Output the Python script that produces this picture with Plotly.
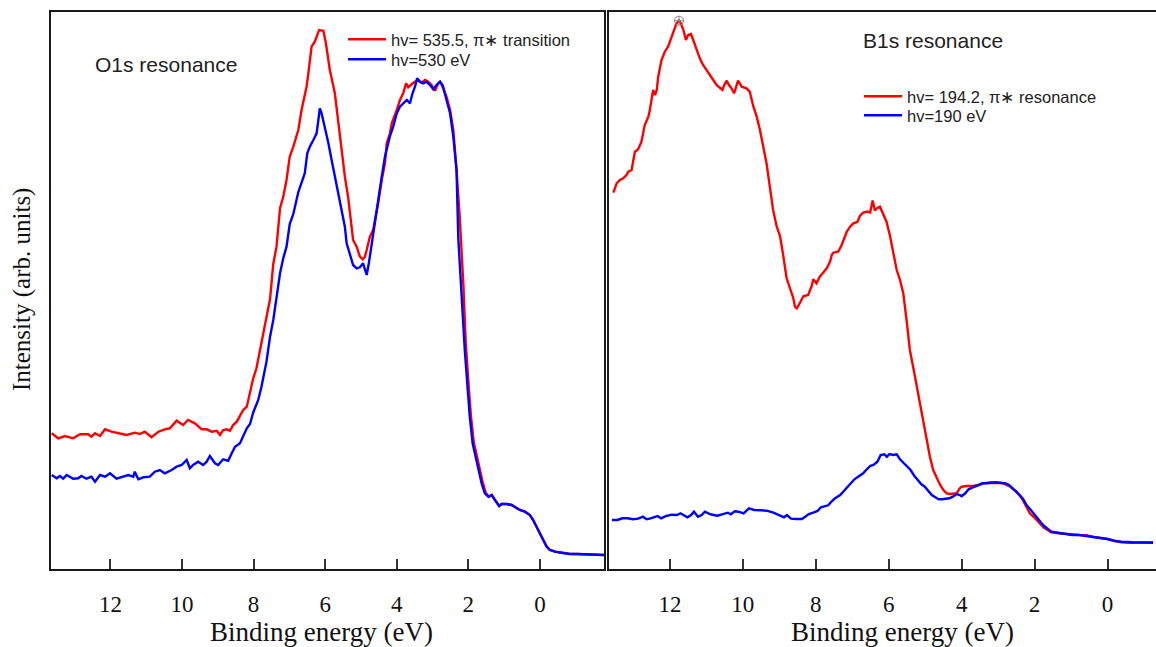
import plotly.graph_objects as go

# ---------------- data ----------------
# Left panel: O1s resonance
o1s_res_energy = [13.64, 13.46, 13.27, 13.04, 12.85, 12.62, 12.53, 12.43, 12.29, 12.15, 11.97, 11.78, 11.55, 11.32,
                  11.18, 11.04, 10.85, 10.66, 10.48, 10.34, 10.15, 9.97, 9.83, 9.64, 9.45, 9.31, 9.17, 9.03, 8.94,
                  8.85, 8.75, 8.66, 8.57, 8.47, 8.38, 8.29, 8.19, 8.10, 8.01, 7.92, 7.82, 7.73, 7.64, 7.54, 7.45,
                  7.36, 7.26, 7.17, 7.08, 6.99, 6.89, 6.75, 6.66, 6.52, 6.47, 6.43, 6.38, 6.29, 6.24, 6.17, 6.05,
                  5.98, 5.87, 5.73, 5.64, 5.54, 5.45, 5.36, 5.26, 5.22, 5.12, 5.03, 4.95, 4.89, 4.84, 4.75, 4.66,
                  4.52, 4.42, 4.33, 4.28, 4.19, 4.14, 4.10, 4.00, 3.91, 3.82, 3.74, 3.68, 3.58, 3.49, 3.40, 3.31,
                  3.21, 3.12, 3.03, 2.93, 2.84, 2.79, 2.70, 2.61, 2.51, 2.42, 2.33, 2.24, 2.14, 2.07, 2.00, 1.93,
                  1.85, 1.79, 1.70, 1.60, 1.51, 1.42, 1.34, 1.26, 1.14, 1.07, 0.93, 0.79, 0.65, 0.56, 0.42, 0.28,
                  0.19, 0.09, 0.00, -0.09, -0.19, -0.28, -0.42, -0.61, -0.84, -1.03, -1.30, -1.58, -1.79]
o1s_res_int = [135.7, 130.7, 133, 130.7, 134.7, 134.7, 132.3, 135.7, 133, 139.7, 137.3, 135.7, 134, 136.3,
               135, 137.3, 131.7, 137.3, 139.7, 140.7, 148.3, 144, 149, 145.7, 139.7, 139.7, 137.3, 138.3, 134,
               139, 139.7, 138.3, 144, 147.3, 154, 159, 162.3, 175.7, 190.7, 200.7, 219, 235.7, 249, 270, 305,
               322.3, 361, 372.3, 389, 412.3, 422.3, 439, 459, 482.3, 495.7, 505.7, 522.3, 527.3, 532.3, 539, 538.3,
               525.7, 499, 475.7, 449, 419, 392.3, 372.3, 342.3, 329, 322.3, 312.3, 309.7, 312.3, 319, 332.3, 339,
               365.7, 389, 405.7, 425.7, 435.7, 445.7, 449, 459, 469, 475.7, 485.7, 481.7, 485, 487.3, 488.3, 486.3,
               489, 487.3, 484, 478.3, 485.7, 487.3, 480.7, 472.3, 459, 439, 399, 352, 285, 225, 188, 154,
               127, 117, 103, 87, 76, 72.3, 74, 69, 63, 65, 65, 64, 60.7, 59, 57.3, 54,
               49, 42.3, 35.7, 29, 22.3, 19, 17.3, 16.3, 15, 15, 14.7, 14, 14]

o1s_off_energy = [13.64, 13.50, 13.41, 13.32, 13.22, 13.13, 13.04, 12.90, 12.81, 12.67, 12.53, 12.43, 12.29, 12.15,
                  12.01, 11.83, 11.64, 11.50, 11.36, 11.32, 11.22, 11.08, 10.90, 10.76, 10.62, 10.48, 10.29, 10.15,
                  10.01, 9.87, 9.78, 9.69, 9.55, 9.41, 9.31, 9.22, 9.08, 8.99, 8.85, 8.71, 8.61, 8.52, 8.38, 8.29,
                  8.19, 8.10, 8.01, 7.87, 7.78, 7.64, 7.54, 7.45, 7.36, 7.26, 7.17, 7.08, 6.99, 6.89, 6.75, 6.66,
                  6.57, 6.50, 6.43, 6.33, 6.24, 6.19, 6.15, 6.10, 6.01, 5.91, 5.82, 5.73, 5.64, 5.54, 5.45, 5.40,
                  5.31, 5.22, 5.12, 5.03, 4.94, 4.84, 4.78, 4.70, 4.61, 4.52, 4.42, 4.33, 4.24, 4.19, 4.10, 4.00,
                  3.91, 3.82, 3.72, 3.63, 3.56, 3.49, 3.43, 3.35, 3.26, 3.17, 3.07, 2.98, 2.89, 2.79, 2.72, 2.61,
                  2.51, 2.42, 2.33, 2.28, 2.19, 2.10, 2.03, 1.96, 1.88, 1.82, 1.72, 1.63, 1.54, 1.44, 1.35, 1.26,
                  1.14, 1.07, 0.93, 0.79, 0.65, 0.56, 0.42, 0.28, 0.19, 0.09, 0.00, -0.09, -0.19, -0.28, -0.42,
                  -0.61, -0.84, -1.03, -1.30, -1.58, -1.79]
o1s_off_int = [94, 90.7, 93, 90.3, 94, 92.3, 90.3, 90.7, 93, 90.3, 92.3, 87.3, 94, 92.3,
               95.7, 90.3, 92.3, 94, 92.3, 97.3, 89.7, 91.7, 92.3, 97.3, 99, 95.7, 99, 102.3,
               104, 109, 100.7, 104, 107.3, 104, 107.3, 113, 105.7, 104, 109.7, 108.3, 115.7, 122.3, 125.7, 132.3,
               140.7, 145, 156.5, 169, 182.3, 207.3, 232.3, 249, 271, 296, 311, 322.3, 345, 355, 377, 385.7,
               395.7, 415.7, 422.3, 429, 435.7, 449, 460.7, 455.7, 442.3, 425.7, 409, 392.3, 375.7, 359, 342.3, 325.7,
               315.7, 304, 300.7, 301.7, 305.7, 294, 305.7, 325.7, 345.7, 365.7, 392.3, 412.3, 425.7, 433, 442.3, 455.7,
               462.3, 465.7, 469, 465.7, 475.7, 482.3, 490.7, 487.3, 485.7, 487.3, 484, 479.7, 484, 487.3, 484, 469,
               455.7, 432.3, 399, 330, 269, 219, 185.7, 152.3, 125.7, 115.7, 102.3, 85.7, 75.7, 72.3, 74, 69,
               63, 65, 65, 64, 60.7, 59, 57.3, 54, 49, 42.3, 35.7, 29, 22.3, 19, 17.3,
               16.3, 15, 15, 14.7, 14, 14]

# Right panel: B1s resonance
b1s_res_energy = [13.55, 13.46, 13.37, 13.28, 13.19, 13.14, 13.05, 13.01, 12.96, 12.87, 12.78, 12.69, 12.59, 12.55,
                  12.50, 12.46, 12.41, 12.36, 12.32, 12.27, 12.23, 12.14, 12.05, 11.95, 11.86, 11.82, 11.75, 11.70,
                  11.63, 11.56, 11.50, 11.42, 11.36, 11.27, 11.18, 11.09, 10.99, 10.90, 10.81, 10.72, 10.63, 10.56,
                  10.51, 10.44, 10.38, 10.31, 10.24, 10.19, 10.13, 10.03, 9.90, 9.81, 9.71, 9.62, 9.53, 9.44, 9.35,
                  9.26, 9.17, 9.07, 8.98, 8.89, 8.80, 8.71, 8.62, 8.57, 8.52, 8.43, 8.34, 8.21, 8.11, 8.07, 7.98,
                  7.89, 7.79, 7.70, 7.61, 7.56, 7.52, 7.38, 7.29, 7.20, 7.15, 7.06, 6.97, 6.86, 6.79, 6.70, 6.59,
                  6.51, 6.44, 6.38, 6.31, 6.24, 6.15, 6.06, 5.97, 5.87, 5.78, 5.69, 5.60, 5.51, 5.46, 5.42, 5.33,
                  5.23, 5.14, 5.05, 4.96, 4.87, 4.78, 4.68, 4.59, 4.50, 4.41, 4.32, 4.23, 4.14, 4.05, 4.00, 3.86,
                  3.68, 3.54, 3.41, 3.22, 3.04, 2.86, 2.67, 2.49, 2.35, 2.22, 2.13, 2.02, 1.93, 1.83, 1.74, 1.64,
                  1.54, 1.35, 1.16, 0.97, 0.77, 0.58, 0.39, 0.19, 0.00, -0.19, -0.38, -0.67, -0.96, -1.25]
b1s_res_int = [376.3, 385.7, 389, 390.7, 394, 397.3, 399, 405.7, 417.3, 419.7, 427.3, 444, 452.3, 459,
               469, 479, 474, 479, 492.3, 500.7, 509, 517.3, 522.3, 532.3, 540.7, 545.7, 548.3, 545.7,
               539, 529, 534, 535, 529, 519, 510.7, 504, 499, 494, 489, 484, 481.7, 479,
               484, 488.3, 484, 480.7, 475.7, 482.3, 488.3, 482.3, 480.7, 477.3, 462.3, 452.3, 439, 422.3, 405.7,
               382.3, 359, 342.3, 333, 313, 291, 281, 271.5, 262.3, 260.7, 266.5, 272.7, 274, 283, 289.7, 285.7,
               292.3, 297.3, 300.7, 307.3, 314, 316.3, 317.5, 324, 334, 337.3, 342.3, 345.7, 347, 353, 356.5, 357.5,
               356.5, 368.5, 358.5, 361, 362.3, 354, 347.3, 334, 315.7, 299, 289, 275.7, 249, 232.3, 219, 202.3,
               182.3, 165.7, 149, 129, 112.3, 99, 90.7, 84, 79, 75.7, 75, 75, 75.7, 80.7, 82.3, 83,
               83, 84, 85.7, 86.3, 86.3, 85.7, 82.3, 77.3, 70.7, 62.3, 55.7, 52, 48, 44.7, 41.3, 38.7,
               36.7, 35.7, 35, 34.3, 34, 33.7, 32, 31, 30, 28, 26.7, 26.3, 26.7, 26.7]

b1s_off_energy = [13.59, 13.44, 13.30, 13.16, 13.01, 12.87, 12.74, 12.64, 12.53, 12.43, 12.34, 12.24, 12.10, 11.95,
                  11.81, 11.71, 11.61, 11.52, 11.42, 11.34, 11.23, 11.13, 11.04, 10.89, 10.70, 10.55, 10.41, 10.33,
                  10.22, 10.12, 9.98, 9.83, 9.69, 9.49, 9.35, 9.16, 9.01, 8.87, 8.79, 8.68, 8.53, 8.38, 8.29, 8.19,
                  8.05, 7.95, 7.86, 7.76, 7.66, 7.57, 7.47, 7.33, 7.23, 7.13, 7.04, 6.94, 6.84, 6.70, 6.60, 6.51,
                  6.41, 6.31, 6.22, 6.12, 6.05, 5.98, 5.88, 5.78, 5.69, 5.59, 5.49, 5.40, 5.30, 5.21, 5.11, 5.01,
                  4.91, 4.82, 4.72, 4.63, 4.53, 4.43, 4.34, 4.24, 4.14, 4.05, 4.00, 3.90, 3.81, 3.71, 3.61, 3.52,
                  3.42, 3.33, 3.23, 3.09, 2.94, 2.79, 2.70, 2.60, 2.51, 2.41, 2.31, 2.22, 2.12, 2.02, 1.93, 1.83,
                  1.74, 1.64, 1.54, 1.35, 1.16, 0.97, 0.77, 0.58, 0.39, 0.19, 0.00, -0.19, -0.38, -0.67, -0.96, -1.25]
b1s_off_int = [49, 49, 50.7, 50.7, 49.7, 50.3, 52.3, 49.7, 50.7, 51.7, 53, 50.7, 53, 54.3,
               54, 55.7, 54, 51.7, 54, 57.3, 52.3, 54, 57.3, 54.7, 53.3, 55, 56.3, 54.7,
               57.7, 57.3, 55.7, 60.7, 59, 58.7, 58.3, 56.3, 54.3, 51.7, 54, 50.3, 50, 50, 52.3, 55,
               56.7, 58, 61.7, 63, 63.7, 67.3, 70.7, 74, 78, 81.7, 86.3, 89.7, 92.3, 95.7, 99.7, 103,
               104.3, 107.3, 114, 114.7, 112.3, 115, 114, 114.7, 109.7, 106.3, 102.3, 99, 93.3, 89, 85, 82.3,
               78.3, 74, 71.7, 69.7, 69.7, 70.3, 70.7, 72.3, 75, 74, 72.7, 75.7, 79.7, 81.3, 83, 84,
               85.7, 85.7, 86.3, 86.7, 86.3, 85.7, 84, 80.7, 78.3, 74, 69.7, 64, 59.7, 55, 50.7, 46.7,
               43, 39.7, 37.3, 36.3, 35, 34, 34, 33, 32.3, 31.3, 30, 28.3, 27.3, 26.7, 26.3, 26.3]

# marked maximum on the B1s resonance spectrum
b1s_peak_energy = [11.75]
b1s_peak_int = [548.3]

x_ticks = [12, 10, 8, 6, 4, 2, 0]

RED = "#ff0000"
BLUE = "#0000ff"
LW = 2.4
W, H = 1156, 647

fig = go.Figure()
fig.add_trace(go.Scatter(x=o1s_res_energy, y=o1s_res_int, mode="lines", name="hv= 535.5, π∗ transition",
                         line=dict(color=RED, width=LW), xaxis="x", yaxis="y", legend="legend"))
fig.add_trace(go.Scatter(x=o1s_off_energy, y=o1s_off_int, mode="lines", name="hv=530 eV",
                         line=dict(color=BLUE, width=LW), xaxis="x", yaxis="y", legend="legend2"))
fig.add_trace(go.Scatter(x=b1s_res_energy, y=b1s_res_int, mode="lines", name="hv= 194.2, π∗ resonance",
                         line=dict(color=RED, width=LW), xaxis="x2", yaxis="y2", legend="legend3"))
fig.add_trace(go.Scatter(x=b1s_off_energy, y=b1s_off_int, mode="lines", name="hv=190 eV",
                         line=dict(color=BLUE, width=LW), xaxis="x2", yaxis="y2", legend="legend4"))
fig.add_trace(go.Scatter(x=b1s_peak_energy, y=b1s_peak_int, mode="markers", showlegend=False,
                         marker=dict(symbol="circle-cross-open", size=9, color="#888888", line=dict(width=1)),
                         xaxis="x2", yaxis="y2"))

frame = "#1a1a1a"
tickfont = dict(family="Liberation Serif", size=23, color="#111111")
common_x = dict(tickmode="array", tickvals=x_ticks, ticks="inside", ticklen=10, tickwidth=1.5,
                tickcolor="#333333", showline=True, linecolor=frame, linewidth=2, showgrid=False,
                zeroline=False, tickfont=tickfont, ticklabelstandoff=13, fixedrange=True)
ydom = [1 - 569 / H, 1 - 12 / H]

leg_font = dict(family="Liberation Sans", size=16.5, color="#222222")


def legend_at(px, py_top):
    return dict(x=px / W, y=1 - py_top / H, xanchor="left", yanchor="top", bgcolor="rgba(0,0,0,0)",
                font=leg_font, itemwidth=38, tracegroupgap=0)


fig.update_layout(
    width=W, height=H, margin=dict(l=0, r=0, t=0, b=0),
    paper_bgcolor="white", plot_bgcolor="white",
    xaxis=dict(domain=[51 / W, 604 / W], range=[13.66, -1.79], anchor="y", mirror=True, **common_x),
    xaxis2=dict(domain=[609 / W, 1.0], range=[13.67, -1.33], anchor="y2", mirror=True, **common_x),
    yaxis=dict(domain=ydom, range=[0, 557], showticklabels=False, ticks="", showgrid=False, zeroline=False,
               showline=True, linecolor=frame, linewidth=2, mirror=True, anchor="x"),
    yaxis2=dict(domain=ydom, range=[0, 557], showticklabels=False, ticks="", showgrid=False, zeroline=False,
                showline=True, linecolor=frame, linewidth=2, mirror=False, anchor="x2"),
    legend=legend_at(343, 22),
    legend2=legend_at(343, 42),
    legend3=legend_at(859, 79),
    legend4=legend_at(859, 98),
    showlegend=True,
)

ann_font = dict(family="Liberation Sans", size=21, color="#222222")
title_font = dict(family="Liberation Serif", size=27, color="#111111")
fig.add_annotation(text="O1s resonance", x=93 / W, y=1 - 64 / H, xref="paper", yref="paper",
                   xanchor="left", yanchor="middle", showarrow=False, font=ann_font)
fig.add_annotation(text="B1s resonance", x=861 / W, y=1 - 41 / H, xref="paper", yref="paper",
                   xanchor="left", yanchor="middle", showarrow=False, font=ann_font)
fig.add_annotation(text="Binding energy (eV)", x=321 / W, y=1 - 632 / H, xref="paper", yref="paper",
                   xanchor="center", yanchor="middle", showarrow=False, font=title_font)
fig.add_annotation(text="Binding energy (eV)", x=902 / W, y=1 - 632 / H, xref="paper", yref="paper",
                   xanchor="center", yanchor="middle", showarrow=False, font=title_font)
fig.add_annotation(text="Intensity (arb. units)", x=22 / W, y=1 - 290 / H, xref="paper", yref="paper",
                   xanchor="center", yanchor="middle", textangle=-90, showarrow=False,
                   font=dict(family="Liberation Serif", size=25, color="#111111"))

fig.write_html("out.html")
